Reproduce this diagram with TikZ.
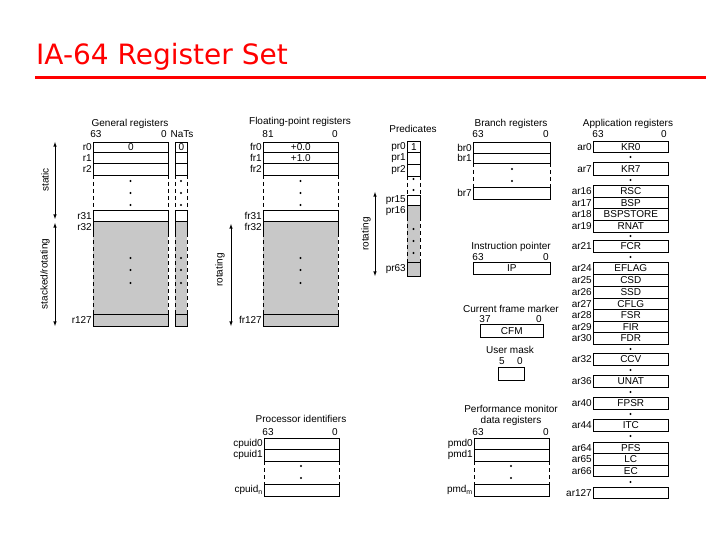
\documentclass[tikz,border=0pt]{standalone}
\usepackage{fontspec}
\setmainfont{Liberation Sans}
\newfontfamily\titlefont{DejaVu Sans}
\begin{document}
\begin{tikzpicture}[x=1pt,y=-1pt,
  reg/.style={draw,line width=0.6pt,inner sep=0pt,anchor=north west,font=\fontsize{10}{10}\selectfont},
  lbl/.style={font=\fontsize{10}{10}\selectfont,inner sep=1pt},
  hd/.style={font=\fontsize{10}{10}\selectfont,inner sep=0pt},
  dsh/.style={dashed,line width=0.6pt,dash pattern=on 4pt off 3pt},
  arr/.style={<->,>=latex,line width=0.6pt}]
\useasboundingbox (0,0) rectangle (720,540);
\definecolor{rg}{RGB}{200,200,200}
\newcommand\RBox[7][white]{\node[reg,fill=#1,minimum width=#5pt,minimum height=#6pt] (#2) at (#3,#4) {#7};}
\newcommand\Dot[1]{\fill #1 circle (1.1pt);}
% title
\node[anchor=west,text=red,font=\titlefont\fontsize{28}{30}\selectfont,inner sep=0pt] (title) at (36,57) {IA-64 Register Set};
\draw[red,line width=3pt] (35,78) -- (706,78);
% General registers
\node[hd] (gh) at (130,124) {General registers};
\node[hd] (g63) at (96,134) {63}; \node[hd] (g0) at (164,134) {0}; \node[hd] (nats) at (182,134) {NaTs};
\foreach \n/\x/\w in {g/93/75,n/175/12,f/263/75}{
  \RBox{\n0}{\x}{142}{\w}{10}{}
  \RBox{\n1}{\x}{152}{\w}{11}{}
  \RBox{\n2}{\x}{163}{\w}{12}{}
  \RBox{\n31}{\x}{210}{\w}{11}{}
  \RBox[rg]{\n32}{\x}{221}{\w}{12}{}
  \fill[rg] (\x,233) rectangle ++(\w,81);
  \RBox[rg]{\n127}{\x}{314}{\w}{12}{}
  \draw[dsh] (\x,175) -- (\x,210) (\x+\w,175) -- (\x+\w,210);
  \draw[dsh] (\x,233) -- (\x,314) (\x+\w,233) -- (\x+\w,314);
  \foreach \yy in {181,193,205,258,270,283} {\Dot{(\x+\w/2,\yy)}}
}
\node[hd] at (g0) {0}; \node[hd] at (n0) {0};
\node[hd] at (f0) {+0.0}; \node[hd] at (f1) {+1.0};
\foreach \n/\t in {0/r0,1/r1,2/r2,31/r31,32/r32,127/r127}{
  \node[lbl,anchor=east] at (g\n.west) {\t};
  \node[lbl,anchor=east] at (f\n.west) {f\t};}
\coordinate (sa) at (55,142); \coordinate (sb) at (55,219);
\coordinate (ta) at (55,223); \coordinate (tb) at (55,326);
\draw[arr] (sa) -- (sb); \draw[arr] (ta) -- (tb);
\node[lbl,rotate=90] at (45,180) {static};
\node[lbl,rotate=90] at (45,274) {stacked/rotating};
% FP
\node[hd] (fh) at (300,122) {Floating-point registers};
\node[hd] at (268,134) {81}; \node[hd] at (335,134) {0};
\coordinate (fa) at (231,224); \coordinate (fb) at (231,326);
\draw[arr] (fa) -- (fb);
\node[lbl,rotate=90] at (220,270) {rotating};
% Predicates
\node[hd] (ph) at (413,129) {Predicates};
\RBox{p0}{407}{141}{13}{11}{1}
\RBox{p1}{407}{152}{13}{12}{}
\RBox{p2}{407}{164}{13}{12}{}
\RBox{p15}{407}{195}{13}{10}{}
\RBox[rg]{p16}{407}{205}{13}{12}{}
\fill[rg] (407,217) rectangle (420,262);
\RBox[rg]{p63}{407}{262}{13}{14}{}
\draw[dsh] (407,176) -- (407,195) (420,176) -- (420,195);
\draw[dsh] (407,217) -- (407,262) (420,217) -- (420,262);
\foreach \yy in {179,190,229,241,253} {\Dot{(413.5,\yy)}}
\foreach \n/\t in {0/pr0,1/pr1,2/pr2,15/pr15,16/pr16,63/pr63}{\node[lbl,anchor=east] at (p\n.west) {\t};}
\coordinate (pa) at (375,192); \coordinate (pb) at (375,276);
\draw[arr] (pa) -- (pb);
\node[lbl,rotate=90] at (366,234) {rotating};
% Branch
\node[hd] (bh) at (511,124) {Branch registers};
\node[hd] at (478,134) {63}; \node[hd] at (546,134) {0};
\RBox{b0}{473}{142}{77}{11}{}
\RBox{b1}{473}{153}{77}{10}{}
\RBox{b7}{473}{187}{77}{12}{}
\draw[dsh] (473,163) -- (473,187) (550,163) -- (550,187);
\Dot{(512,169)} \Dot{(512,181)}
\foreach \n in {0,1,7}{\node[lbl,anchor=east] at (b\n.west) {br\n};}
% IP
\node[hd] (iph) at (511,247) {Instruction pointer};
\node[hd] at (478,257) {63}; \node[hd] at (546,257) {0};
\RBox{ip}{473}{262}{77}{12}{IP}
% CFM
\node[hd] (ch) at (511,309) {Current frame marker};
\node[hd] at (485,319) {37}; \node[hd] at (539,319) {0};
\RBox{cfm}{480}{324}{63}{13}{CFM}
% User mask
\node[hd] (uh) at (510,350) {User mask};
\node[hd] at (502,361) {5}; \node[hd] at (520,361) {0};
\RBox{um}{498}{367}{26}{13}{}
% Application registers
\node[hd] (ah) at (628,124) {Application registers};
\node[hd] at (598,134) {63}; \node[hd] at (664,134) {0};
\foreach \n/\y/\h/\t in {0/141/11/KR0,7/162/13/KR7,16/185/12/RSC,17/197/11/BSP,18/208/12/BSPSTORE,19/220/12/RNAT,21/240/12/FCR,24/262/12/EFLAG,25/274/12/CSD,26/286/12/SSD,27/298/11/CFLG,28/309/12/FSR,29/321/11/FIR,30/332/12/FDR,32/353/12/CCV,36/375/12/UNAT,40/397/12/FPSR,44/419/12/ITC,64/442/11/PFS,65/453/12/LC,66/465/11/EC,127/487/11/{}}{
  \RBox{a\n}{593}{\y}{75}{\h}{\t}
  \node[lbl,anchor=east] at (a\n.west) {ar\n};}
\foreach \yy in {157,180,236,257,349,370,392,414,436,482} {\Dot{(630.5,\yy)}}
% Processor identifiers
\node[hd] (cph) at (301,419) {Processor identifiers};
\node[hd] at (268,432) {63}; \node[hd] at (335,432) {0};
\RBox{c0}{264}{438}{75}{11}{}
\RBox{c1}{264}{449}{75}{12}{}
\RBox{cn}{264}{484}{75}{12}{}
\draw[dsh] (264,461) -- (264,484) (339,461) -- (339,484);
\Dot{(301,466)} \Dot{(301,478)}
\node[lbl,anchor=east] at (c0.west) {cpuid0};
\node[lbl,anchor=east] at (c1.west) {cpuid1};
\node[lbl,anchor=east] at (cn.west) {cpuid$_\mathrm{n}$};
% PMD
\node[hd] (pmh) at (511,409) {Performance monitor};
\node[hd] (pmh2) at (511,421) {data registers};
\node[hd] at (478,432) {63}; \node[hd] at (546,432) {0};
\RBox{m0}{474}{438}{75}{11}{}
\RBox{m1}{474}{449}{75}{12}{}
\RBox{mm}{474}{484}{75}{12}{}
\draw[dsh] (474,461) -- (474,484) (549,461) -- (549,484);
\Dot{(511,466)} \Dot{(511,478)}
\node[lbl,anchor=east] at (m0.west) {pmd0};
\node[lbl,anchor=east] at (m1.west) {pmd1};
\node[lbl,anchor=east] at (mm.west) {pmd$_\mathrm{m}$};
\end{tikzpicture}
\end{document}
